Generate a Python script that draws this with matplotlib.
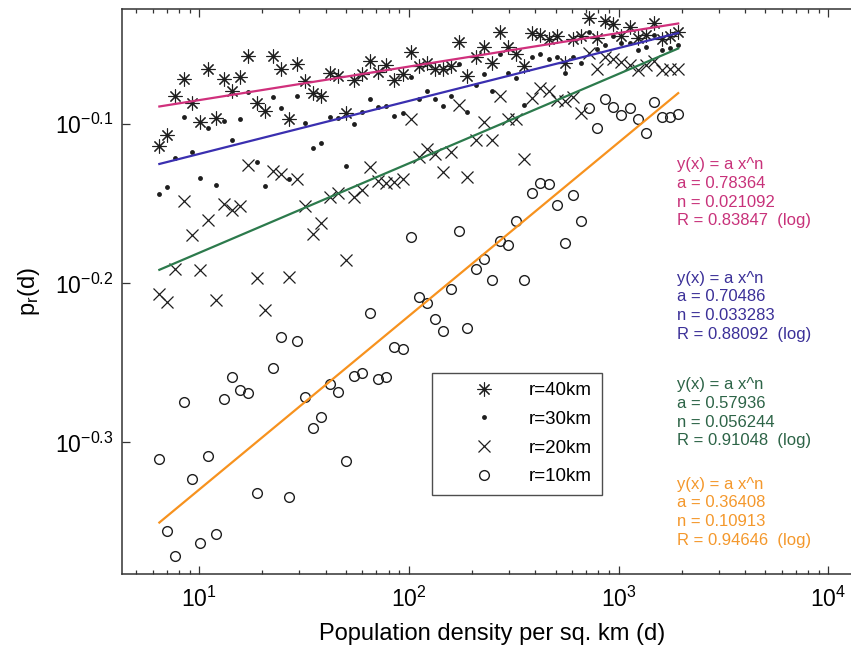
import numpy as np
import matplotlib
matplotlib.use("Agg")
import matplotlib.pyplot as plt
from matplotlib.ticker import FixedLocator, NullLocator, LogLocator, NullFormatter

plt.rcParams['font.family'] = ['Liberation Sans', 'DejaVu Sans']
plt.rcParams['mathtext.fontset'] = 'custom'
plt.rcParams['mathtext.rm'] = 'Liberation Sans'
plt.rcParams['mathtext.it'] = 'Liberation Sans:italic'
plt.rcParams['mathtext.bf'] = 'Liberation Sans:bold'

# ---------------- data ----------------
density = [6.45, 7.05, 7.70, 8.42, 9.21, 10.06, 11.00, 12.03, 13.15, 14.37,
           15.70, 17.16, 18.76, 20.51, 22.42, 24.51, 26.79, 29.28, 32.01, 34.99,
           38.25, 41.81, 45.70, 49.96, 54.61, 59.72, 65.25, 71.32, 77.96, 85.24,
           93.19, 101.9, 111.4, 121.7, 133.1, 145.5, 159.0, 173.9, 190.0, 207.7,
           227.1, 248.3, 271.3, 296.6, 324.3, 354.4, 387.3, 423.5, 463.0, 505.9,
           553.2, 604.6, 661.0, 722.6, 789.9, 863.6, 943.6, 1031, 1128, 1233,
           1348, 1473, 1610, 1760, 1924]

pr_40km = [0.770, 0.782, 0.828, 0.848, 0.819, 0.797, 0.860, 0.802, 0.848, 0.833,
           0.851, 0.877, 0.819, 0.810, 0.877, 0.860, 0.800, 0.867, 0.846, 0.831,
           0.827, 0.855, 0.852, 0.807, 0.847, 0.854, 0.870, 0.857, 0.866, 0.847,
           0.854, 0.882, 0.864, 0.868, 0.860, 0.861, 0.864, 0.895, 0.852, 0.876,
           0.889, 0.868, 0.908, 0.888, 0.879, 0.864, 0.906, 0.904, 0.899, 0.903,
           0.868, 0.899, 0.903, 0.926, 0.900, 0.923, 0.919, 0.902, 0.914, 0.900,
           0.904, 0.920, 0.899, 0.902, 0.908]

pr_30km = [0.718, 0.725, 0.756, 0.803, 0.763, 0.735, 0.790, 0.728, 0.798, 0.776,
           0.801, 0.832, 0.752, 0.726, 0.826, 0.813, 0.734, 0.827, 0.796, 0.768,
           0.773, 0.803, 0.802, 0.748, 0.795, 0.809, 0.824, 0.814, 0.816, 0.804,
           0.808, 0.851, 0.824, 0.834, 0.824, 0.816, 0.827, 0.867, 0.809, 0.841,
           0.854, 0.834, 0.879, 0.855, 0.850, 0.817, 0.875, 0.879, 0.873, 0.875,
           0.856, 0.875, 0.868, 0.908, 0.886, 0.891, 0.902, 0.893, 0.893, 0.884,
           0.889, 0.904, 0.884, 0.887, 0.891]

pr_20km = [0.621, 0.614, 0.644, 0.711, 0.677, 0.643, 0.692, 0.616, 0.708, 0.702,
           0.706, 0.749, 0.636, 0.607, 0.742, 0.739, 0.637, 0.734, 0.706, 0.678,
           0.689, 0.715, 0.719, 0.653, 0.715, 0.722, 0.747, 0.732, 0.730, 0.731,
           0.734, 0.800, 0.758, 0.766, 0.761, 0.741, 0.763, 0.817, 0.736, 0.776,
           0.797, 0.776, 0.827, 0.801, 0.800, 0.755, 0.825, 0.837, 0.834, 0.823,
           0.822, 0.826, 0.807, 0.881, 0.860, 0.876, 0.873, 0.869, 0.866, 0.859,
           0.865, 0.871, 0.859, 0.861, 0.861]

pr_10km = [0.489, 0.441, 0.425, 0.531, 0.475, 0.433, 0.491, 0.439, 0.534, 0.551,
           0.541, 0.538, 0.466, np.nan, 0.558, 0.584, 0.463, 0.580, 0.535, 0.512,
           0.520, 0.545, 0.539, 0.488, 0.552, 0.554, 0.604, 0.549, 0.551, 0.575,
           0.574, 0.675, 0.619, 0.613, 0.599, 0.589, 0.626, 0.681, 0.591, 0.644,
           0.654, 0.634, 0.671, 0.667, 0.691, 0.634, 0.719, 0.730, 0.729, 0.707,
           0.669, 0.717, 0.691, 0.813, 0.790, 0.824, 0.815, 0.805, 0.813, 0.801,
           0.784, 0.820, 0.803, 0.803, 0.806]

series_labels = ['r=40km', 'r=30km', 'r=20km', 'r=10km']
fit_a = [0.78364, 0.70486, 0.57936, 0.36408]
fit_n = [0.021092, 0.033283, 0.056244, 0.10913]
fit_R = [0.83847, 0.88092, 0.91048, 0.94646]

ytick_exponents = [-0.3, -0.2, -0.1]
xtick_exponents = [1, 2, 3, 4]

# ---------------- styles ----------------
line_colors = ['#D0307C', '#3A2FB0', '#2C7A4C', '#F7921E']
text_colors = ['#C8327A', '#3B3098', '#2D6447', '#F4982C']
mk_color = '#1E1E1E'
marker_styles = [
    dict(marker=(8, 2, 0), markersize=10, markeredgewidth=0.8, color=mk_color),
    dict(marker='o', markersize=3.5, markeredgewidth=0, color=mk_color),
    dict(marker='x', markersize=8, markeredgewidth=0.9, color=mk_color),
    dict(marker='o', markersize=7, markeredgewidth=1.0, markerfacecolor='none',
         markeredgecolor=mk_color),
]

W, H = 851, 649
fig = plt.figure(figsize=(W / 100, H / 100), dpi=100)
ax_left, ax_right, ax_top, ax_bot = 121.7, 863.0, 9.0, 574.3
ax = fig.add_axes([ax_left / W, 1 - ax_bot / H, (ax_right - ax_left) / W,
                   (ax_bot - ax_top) / H])
ax.set_xscale('log')
ax.set_yscale('log')

series = [pr_40km, pr_30km, pr_20km, pr_10km]
x = np.array(density, dtype=float)
for vals, st, lab in zip(series, marker_styles, series_labels):
    ax.plot(x, np.array(vals, dtype=float), linestyle='none', label=lab,
            zorder=3, **st)

xf = np.logspace(np.log10(x.min()), np.log10(x.max()), 100)
for a, n, c in zip(fit_a, fit_n, line_colors):
    ax.plot(xf, a * xf ** n, color=c, lw=1.6, zorder=4)

ax.set_xlim(10 ** 0.630, 10 ** 4.1655)
ax.set_ylim(10 ** -0.3830, 10 ** -0.0275)

ax.xaxis.set_major_locator(FixedLocator([10.0 ** e for e in xtick_exponents]))
ax.set_xticklabels([r'$10^{%d}$' % e for e in xtick_exponents])
ax.xaxis.set_minor_locator(LogLocator(base=10, subs=np.arange(2, 10)))
ax.xaxis.set_minor_formatter(NullFormatter())
ax.yaxis.set_major_locator(FixedLocator([10.0 ** e for e in ytick_exponents]))
ax.set_yticklabels([r'$10^{%s}$' % e for e in ytick_exponents])
ax.yaxis.set_minor_locator(NullLocator())
ax.yaxis.set_minor_formatter(NullFormatter())

ax.tick_params(which='both', direction='in', top=True, right=True,
               color='#333333', width=0.9)
ax.tick_params(which='major', length=5.5, labelsize=16.5, pad=9)
ax.tick_params(which='minor', length=3)
ax.tick_params(axis='y', pad=6)
for s in ax.spines.values():
    s.set_linewidth(1.1)
    s.set_color('#333333')

ax.set_xlabel('Population density per sq. km (d)', fontsize=17, labelpad=8)
ax.set_ylabel(r'p$_\mathregular{r}$(d)', fontsize=17, labelpad=9)

leg = ax.legend(loc='upper left', bbox_to_anchor=((431.7 - ax_left) / (ax_right - ax_left),
                                                  (ax_bot - 372.7) / (ax_bot - ax_top)),
                fontsize=13.5, frameon=True, fancybox=False, handlelength=4.6,
                handletextpad=0.1, borderpad=0.5, labelspacing=0.62,
                borderaxespad=0, numpoints=1)
leg.get_frame().set_edgecolor('#222222')
leg.get_frame().set_linewidth(1.0)

first_line_y = [165.0, 278.3, 385.0, 484.3]
spacing = 18.6
for k in range(4):
    lines = ['y(x) = a x^n', f'a = {fit_a[k]}', f'n = {fit_n[k]}',
             f'R = {fit_R[k]}  (log)']
    for j, t in enumerate(lines):
        fig.text(677 / W, 1 - (first_line_y[k] + j * spacing) / H, t,
                 color=text_colors[k], fontsize=12, va='center', ha='left')

fig.savefig('out.png', dpi=100)
